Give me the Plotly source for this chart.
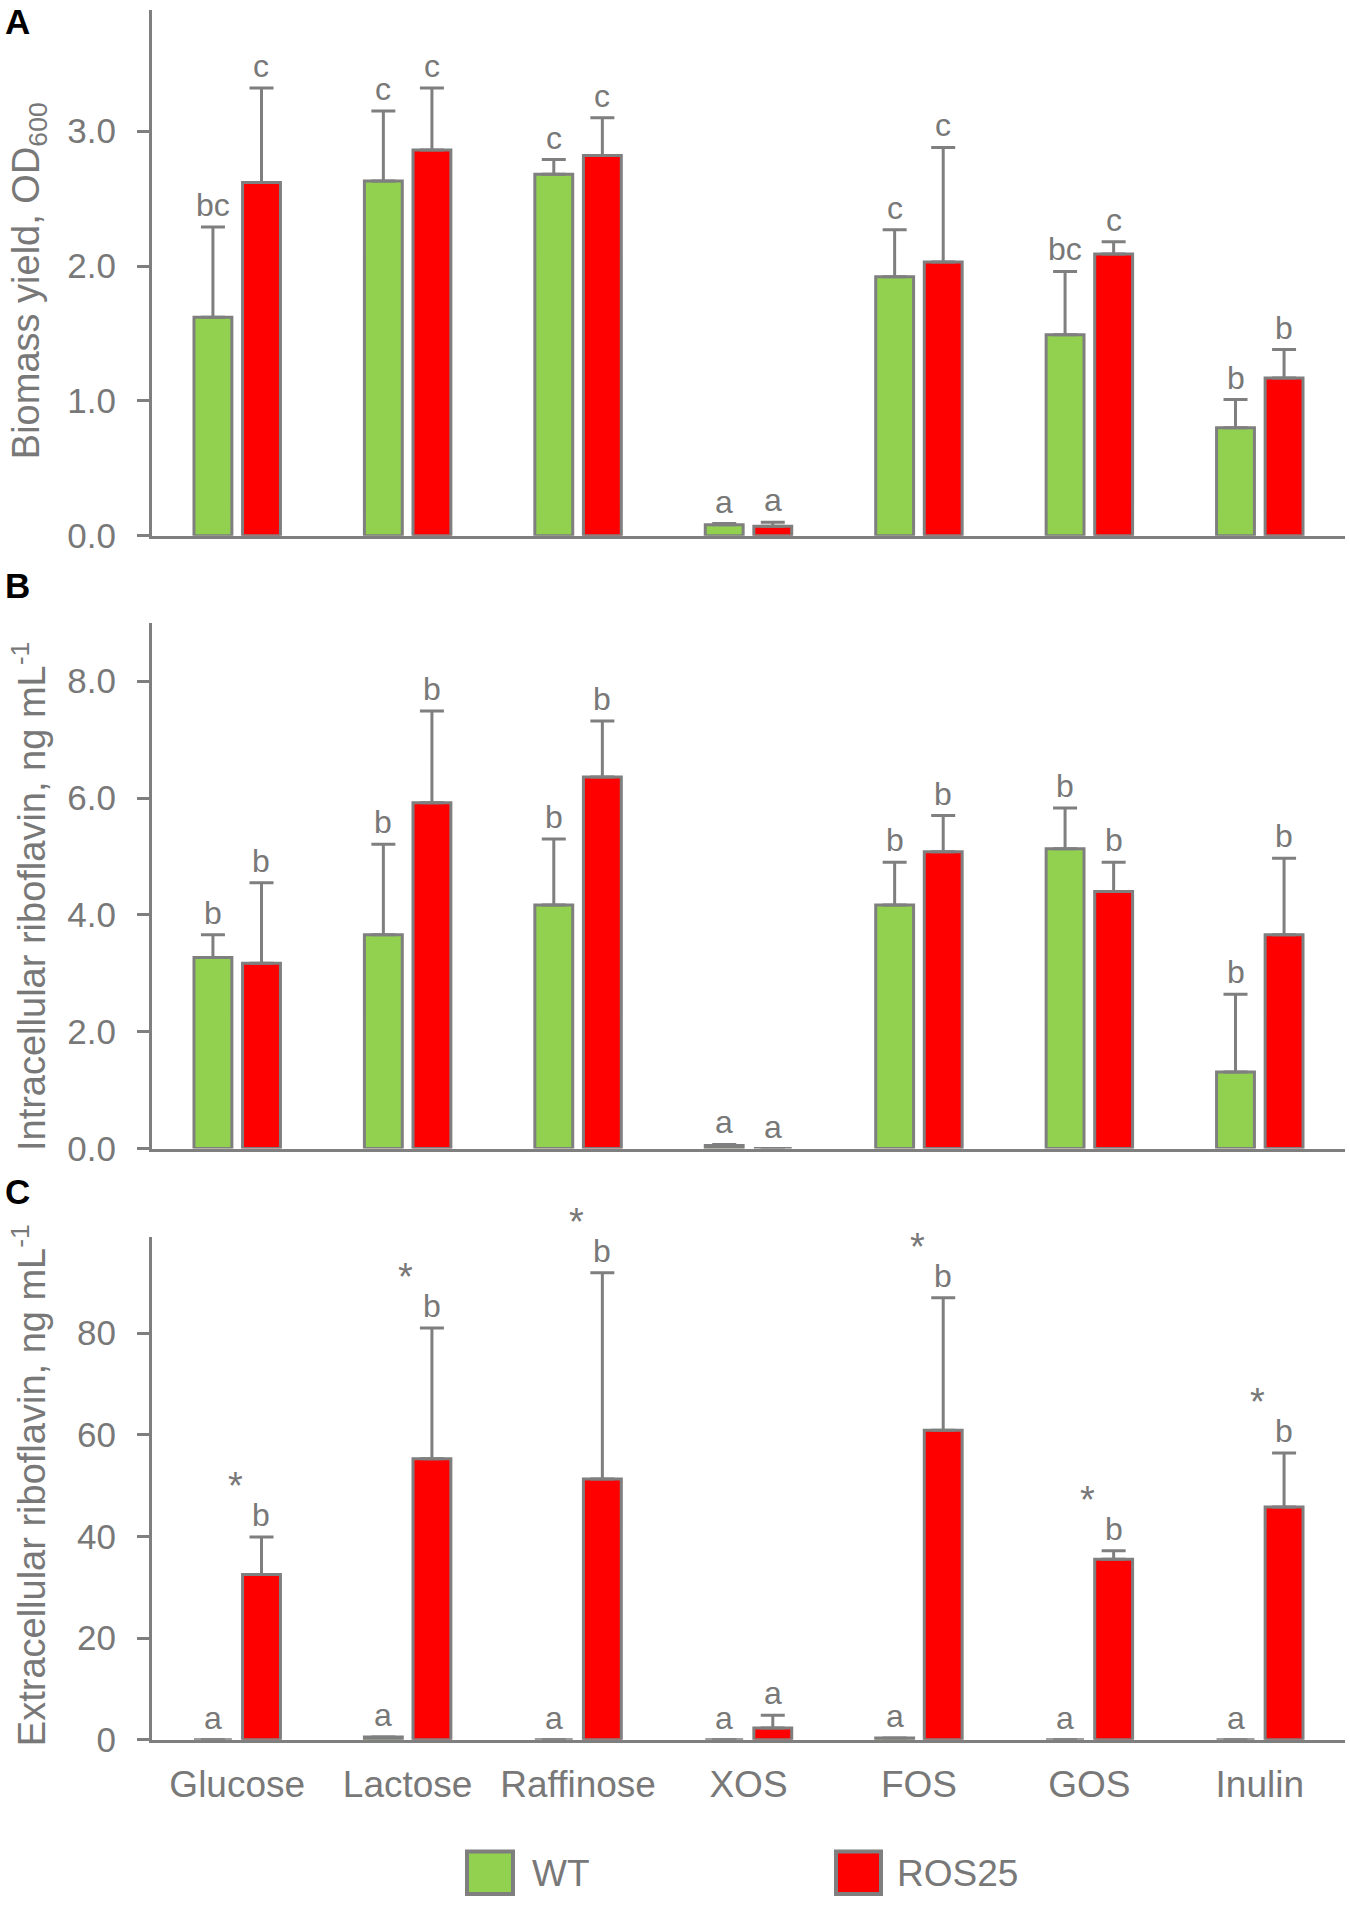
import plotly.graph_objects as go

categories = ["Glucose", "Lactose", "Raffinose", "XOS", "FOS", "GOS", "Inulin"]

# Panel A: biomass yield (OD600)
biomass_wt = [1.62, 2.63, 2.68, 0.08, 1.92, 1.49, 0.80]
biomass_wt_sd = [0.67, 0.52, 0.11, 0.01, 0.35, 0.47, 0.21]
biomass_ros = [2.62, 2.86, 2.82, 0.07, 2.03, 2.09, 1.17]
biomass_ros_sd = [0.70, 0.46, 0.28, 0.03, 0.85, 0.09, 0.21]
biomass_wt_letters = ["bc", "c", "c", "a", "c", "bc", "b"]
biomass_ros_letters = ["c", "c", "c", "a", "c", "c", "b"]

# Panel B: intracellular riboflavin (ng/mL)
intra_wt = [3.27, 3.66, 4.17, 0.05, 4.17, 5.13, 1.31]
intra_wt_sd = [0.39, 1.55, 1.13, 0.02, 0.73, 0.70, 1.33]
intra_ros = [3.17, 5.92, 6.36, 0.0, 5.08, 4.40, 3.66]
intra_ros_sd = [1.38, 1.57, 0.96, None, 0.62, 0.50, 1.31]
intra_wt_letters = ["b", "b", "b", "a", "b", "b", "b"]
intra_ros_letters = ["b", "b", "b", "a", "b", "b", "b"]

# Panel C: extracellular riboflavin (ng/mL)
extra_wt = [0.0, 0.5, 0.0, 0.0, 0.3, 0.0, 0.0]
extra_wt_sd = [None, None, None, None, None, None, None]
extra_ros = [32.5, 55.3, 51.3, 2.3, 60.9, 35.5, 45.8]
extra_ros_sd = [7.4, 25.7, 40.6, 2.5, 26.1, 1.7, 10.6]
extra_wt_letters = ["a", "a", "a", "a", "a", "a", "a"]
extra_ros_letters = ["b", "b", "b", "a", "b", "b", "b"]
extra_ros_stars = ["*", "*", "*", "", "*", "*", "*"]

series_names = ["WT", "ROS25"]
y_titles = ["Biomass yield, OD<sub>600</sub>",
            "Intracellular riboflavin, ng mL<sup>-1</sup>",
            "Extracellular riboflavin, ng mL<sup>-1</sup>"]
panel_labels = ["A", "B", "C"]

GREEN = "#92D050"
RED = "#FF0000"
GREY = "#7F7F7F"
TXT = "#787878"
FONT = "Liberation Sans, Arial, sans-serif"

FW, FH = 1350, 1923
ML, MR = 152, 5
PW = FW - ML - MR


def fy(y):
    return 1 - y / FH


def px(x):
    return (x - ML) / PW


domains = [(fy(541), fy(10)), (fy(1160), fy(629)), (fy(1757), fy(1249))]
title_centers = [284, 906, 1500]
yranges = [[0, 3.9], [0, 9.0], [0, 99]]
ytickvals = [[0, 1, 2, 3], [0, 2, 4, 6, 8], [0, 20, 40, 60, 80]]
yfmt = [".1f", ".1f", "d"]

panels = [
    (biomass_wt, biomass_wt_sd, biomass_ros, biomass_ros_sd, biomass_wt_letters, biomass_ros_letters, None),
    (intra_wt, intra_wt_sd, intra_ros, intra_ros_sd, intra_wt_letters, intra_ros_letters, None),
    (extra_wt, extra_wt_sd, extra_ros, extra_ros_sd, extra_wt_letters, extra_ros_letters, extra_ros_stars),
]

fig = go.Figure()
annotations = []
shift = 24.2

for i, (wt, wtsd, ros, rossd, wtl, rosl, stars) in enumerate(panels):
    xa = "x" if i == 0 else f"x{i+1}"
    ya = "y" if i == 0 else f"y{i+1}"
    for vals, sds, color, name in [(wt, wtsd, GREEN, "WT"), (ros, rossd, RED, "ROS25")]:
        fig.add_trace(go.Bar(
            x=categories, y=vals, name=name, xaxis=xa, yaxis=ya,
            marker=dict(color=color, line=dict(color=GREY, width=3)),
            error_y=dict(type="data", symmetric=False, array=sds,
                         arrayminus=[0] * len(vals), color=GREY, thickness=3, width=12),
            showlegend=False, offsetgroup=name, hoverinfo="skip",
        ))
    for j, c in enumerate(categories):
        for vals, sds, letters, xs in [(wt, wtsd, wtl, -shift), (ros, rossd, rosl, shift)]:
            top = vals[j] + (sds[j] or 0)
            annotations.append(dict(
                x=c, y=top, xref=xa, yref=ya, text=letters[j], showarrow=False,
                xanchor="center", yanchor="bottom", xshift=xs, yshift=2,
                font=dict(family=FONT, size=32, color=TXT)))
        if stars and stars[j]:
            top = ros[j] + (rossd[j] or 0)
            annotations.append(dict(
                x=c, y=top, xref=xa, yref=ya, text=stars[j], showarrow=False,
                xanchor="center", yanchor="bottom", xshift=shift - 26, yshift=28,
                font=dict(family=FONT, size=38, color=TXT)))

layout = dict(
    width=FW, height=FH,
    margin=dict(l=ML, r=MR, t=0, b=0),
    paper_bgcolor="white", plot_bgcolor="white",
    barmode="group", bargap=0.43, bargroupgap=0.22,
    font=dict(family=FONT, color=TXT),
    showlegend=False,
)

for i in range(3):
    xkey = "xaxis" if i == 0 else f"xaxis{i+1}"
    ykey = "yaxis" if i == 0 else f"yaxis{i+1}"
    ya = "y" if i == 0 else f"y{i+1}"
    xa = "x" if i == 0 else f"x{i+1}"
    layout[xkey] = dict(
        domain=[0, 1], anchor=ya, type="category",
        categoryorder="array", categoryarray=categories,
        showline=True, linecolor=GREY, linewidth=3, ticks="",
        showgrid=False, zeroline=False,
        showticklabels=(i == 2), ticklabelstandoff=10,
        tickfont=dict(family=FONT, size=37, color=TXT),
    )
    layout[ykey] = dict(
        domain=list(domains[i]), anchor=xa, range=yranges[i],
        tickvals=ytickvals[i], tickformat=yfmt[i],
        showline=True, linecolor=GREY, linewidth=3,
        ticks="outside", ticklen=12, tickwidth=3, tickcolor=GREY,
        showgrid=False, zeroline=False, ticklabelstandoff=14,
        tickfont=dict(family=FONT, size=35, color=TXT),
    )
    # y-axis title (rotated), positioned like the original
    annotations.append(dict(
        x=px(29), y=fy(title_centers[i]), xref="paper", yref="paper",
        text=y_titles[i], textangle=-90, showarrow=False,
        xanchor="center", yanchor="middle",
        font=dict(family=FONT, size=38, color=TXT)))

# panel labels
for lab, yc in zip(panel_labels, [22, 591, 1203]):
    annotations.append(dict(
        x=px(3), y=fy(yc), xref="paper", yref="paper", text=f"<b>{lab}</b>",
        showarrow=False, xanchor="left", yanchor="middle",
        font=dict(family=FONT, size=35, color="black")))

# manual legend
shapes = []
for (x0, x1, tx, color, name) in [(467, 513, 530, GREEN, series_names[0]),
                                   (836, 881, 895, RED, series_names[1])]:
    shapes.append(dict(type="rect", xref="paper", yref="paper",
                       x0=px(x0), x1=px(x1), y0=fy(1913), y1=fy(1870),
                       fillcolor=color, line=dict(color=GREY, width=4)))
    annotations.append(dict(
        x=px(tx), y=fy(1892), xref="paper", yref="paper", text=name,
        showarrow=False, xanchor="left", yanchor="middle",
        font=dict(family=FONT, size=37, color=TXT)))

layout["annotations"] = annotations
layout["shapes"] = shapes
fig.update_layout(**layout)

fig.write_html(
    "out.html",
    config={"displayModeBar": False, "staticPlot": True},
    post_script="document.documentElement.style.margin='0';"
                "document.body.style.margin='0';"
                "document.documentElement.style.overflow='hidden';"
                "document.body.style.overflow='hidden';",
)
